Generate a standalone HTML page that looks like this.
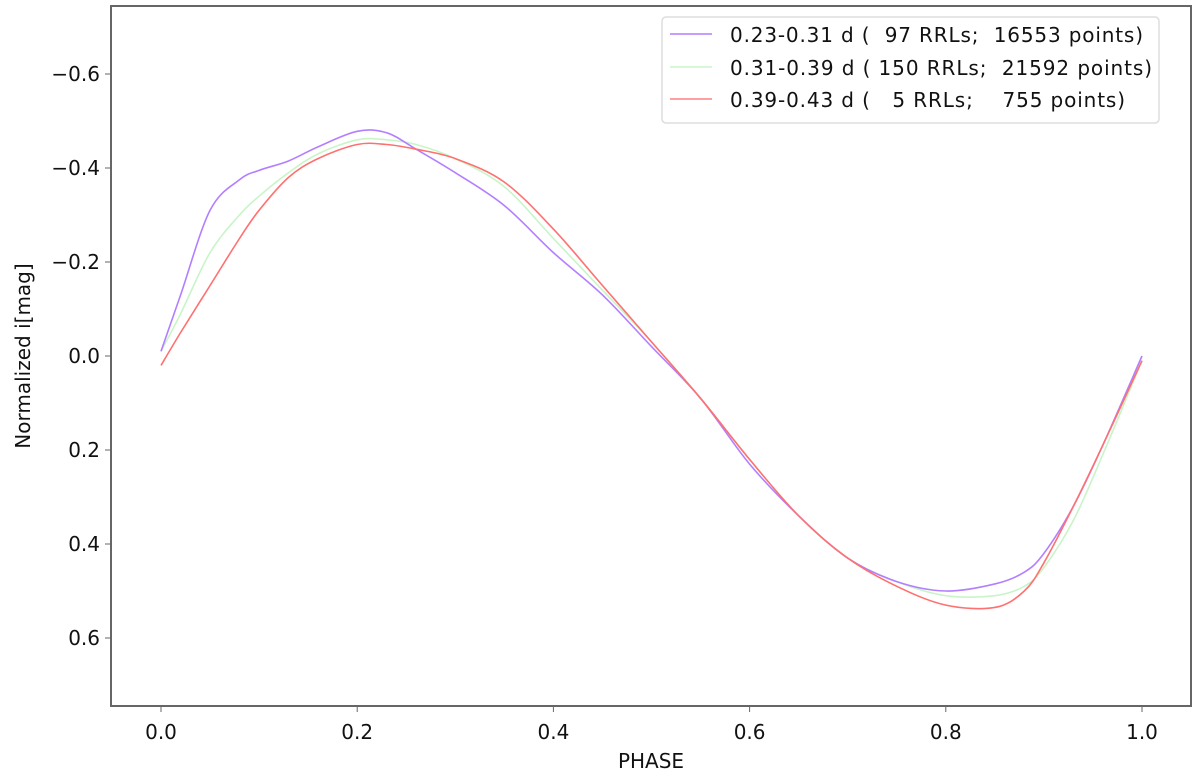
<!DOCTYPE html>
<html><head><meta charset="utf-8"><style>
body{margin:0;background:#fff}
svg text{font-family:"DejaVu Sans","Liberation Sans",sans-serif;fill:#111}
</style></head><body>
<svg id="chart" width="1200" height="777" viewBox="0 0 1200 777">
<rect x="111" y="6" width="1080" height="700" fill="#fff" stroke="#666" stroke-width="2"/>
<g id="ticks"></g>
<g id="series"></g>
<text x="651" y="768" font-size="20" text-anchor="middle">PHASE</text>
<text transform="translate(30,356) rotate(-90)" font-size="20" text-anchor="middle">Normalized i[mag]</text>
<g>
<rect x="662" y="17" width="497" height="106" rx="4" fill="#fff" stroke="#ddd" stroke-width="1.5"/>
<line x1="670" y1="34" x2="712" y2="34" stroke="#b37fff" stroke-width="1.5"/>
<text x="730" y="42" font-size="20" textLength="413" xml:space="preserve">0.23-0.31 d (  97 RRLs;  16553 points)</text>
<line x1="670" y1="67" x2="712" y2="67" stroke="#c8f5c8" stroke-width="1.5"/>
<text x="730" y="75" font-size="20" textLength="422" xml:space="preserve">0.31-0.39 d ( 150 RRLs;  21592 points)</text>
<line x1="670" y1="99" x2="712" y2="99" stroke="#ff8080" stroke-width="1.5"/>
<text x="730" y="107" font-size="20" textLength="395" xml:space="preserve">0.39-0.43 d (   5 RRLs;    755 points)</text>
</g>
</svg>
<script>
const xTicks=[0.0,0.2,0.4,0.6,0.8,1.0];
const xTickLabels=["0.0","0.2","0.4","0.6","0.8","1.0"];
const yTicks=[-0.6,-0.4,-0.2,0.0,0.2,0.4,0.6];
const yTickLabels=["\u22120.6","\u22120.4","\u22120.2","0.0","0.2","0.4","0.6"];
const phase=[0,0.02,0.05,0.08,0.1,0.13,0.16,0.2,0.23,0.26,0.3,0.35,0.4,0.45,0.5,0.55,0.6,0.65,0.7,0.75,0.8,0.85,0.88,0.9,0.93,0.96,1.0];
const magShort=[-0.01,-0.13,-0.31,-0.375,-0.395,-0.415,-0.445,-0.478,-0.475,-0.44,-0.39,-0.32,-0.22,-0.13,-0.02,0.09,0.23,0.34,0.43,0.48,0.50,0.485,0.46,0.42,0.32,0.19,0.0];
const magMid=[-0.01,-0.09,-0.22,-0.30,-0.34,-0.39,-0.43,-0.46,-0.46,-0.45,-0.42,-0.36,-0.25,-0.14,-0.03,0.09,0.22,0.34,0.43,0.48,0.51,0.51,0.49,0.45,0.35,0.21,0.01];
const magLong=[0.02,-0.05,-0.15,-0.25,-0.31,-0.38,-0.42,-0.45,-0.45,-0.44,-0.42,-0.37,-0.27,-0.15,-0.03,0.09,0.22,0.34,0.43,0.49,0.53,0.535,0.50,0.44,0.32,0.19,0.01];
const X=v=>161+v*981, Y=v=>356+v*470;
const NS="http://www.w3.org/2000/svg";
const tg=document.getElementById('ticks'), sg=document.getElementById('series');
xTicks.forEach((t,i)=>{
 const l=document.createElementNS(NS,'line');
 l.setAttribute('x1',X(t));l.setAttribute('x2',X(t));l.setAttribute('y1',706);l.setAttribute('y2',712);l.setAttribute('stroke','#666');
 
 
 tg.appendChild(l);
 const tx=document.createElementNS(NS,'text');
 tx.setAttribute('x',X(t));tx.setAttribute('y',739);tx.setAttribute('font-size','20');tx.setAttribute('text-anchor','middle');
 tx.textContent=xTickLabels[i];
 
 
 tg.appendChild(tx);
});
yTicks.forEach((t,i)=>{
 const l=document.createElementNS(NS,'line');
 l.setAttribute('x1',105);l.setAttribute('x2',111);l.setAttribute('y1',Y(t));l.setAttribute('y2',Y(t));l.setAttribute('stroke','#666');
 
 
 tg.appendChild(l);
 const tx=document.createElementNS(NS,'text');
 tx.setAttribute('x',100);tx.setAttribute('y',Y(t)+7);tx.setAttribute('font-size','20');tx.setAttribute('text-anchor','end');
 tx.textContent=yTickLabels[i];
 
 
 tg.appendChild(tx);
});
function pathFor(ys){
 const p=phase.map((x,i)=>[X(x),Y(ys[i])]);
 let d='M'+p[0][0]+','+p[0][1];
 for(let i=0;i<p.length-1;i++){
  const p0=p[Math.max(0,i-1)],p1=p[i],p2=p[i+1],p3=p[Math.min(p.length-1,i+2)];
  const c1=[p1[0]+(p2[0]-p0[0])/6,p1[1]+(p2[1]-p0[1])/6];
  const c2=[p2[0]-(p3[0]-p1[0])/6,p2[1]-(p3[1]-p1[1])/6];
  d+=`C${c1[0]},${c1[1]} ${c2[0]},${c2[1]} ${p2[0]},${p2[1]}`;
 }
 return d;
}
[[magMid,'#c8f5c8','series-0.31-0.39d'],[magShort,'#b37fff','series-0.23-0.31d'],[magLong,'#ff7070','series-0.39-0.43d']].forEach(s=>{
 const pa=document.createElementNS(NS,'path');
 pa.setAttribute('d',pathFor(s[0]));pa.setAttribute('fill','none');pa.setAttribute('stroke',s[1]);pa.setAttribute('stroke-width','1.6');
 
 
 sg.appendChild(pa);
});
</script>
</body></html>
